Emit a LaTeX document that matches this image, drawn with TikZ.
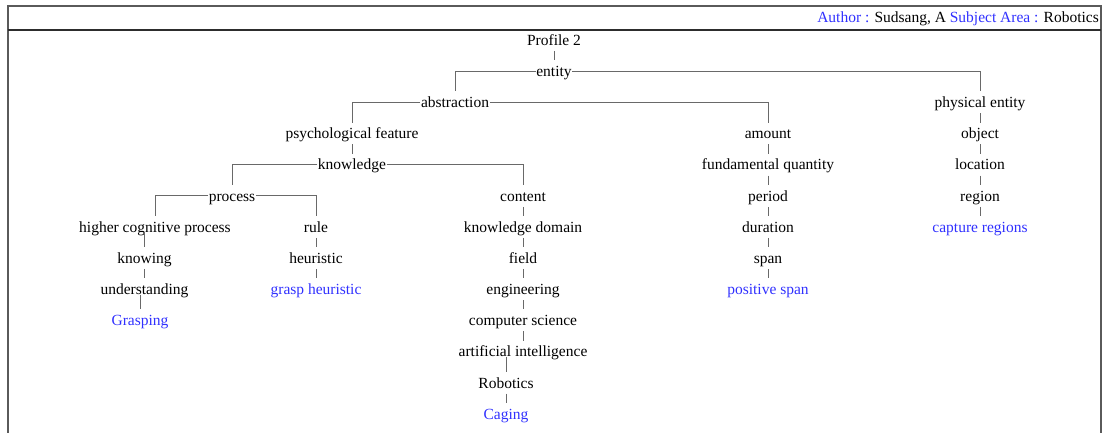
\documentclass[tikz,border=0pt]{standalone}
\usepackage{fontspec}
\setmainfont{Liberation Serif}
\definecolor{linkblue}{RGB}{48,48,255}
\definecolor{edgegray}{RGB}{105,105,105}
\definecolor{framegray}{RGB}{90,90,90}
\definecolor{ruledark}{RGB}{45,45,45}
\begin{document}
\begin{tikzpicture}[x=1pt,y=-1pt,
  lbl/.style={inner xsep=0.5pt, inner ysep=0pt, minimum height=21.5pt,
    text height=13pt, text depth=2.4pt, font=\fontsize{15.5}{18}\selectfont},
  leaf/.style={lbl, text=linkblue},
  conn/.style={draw=edgegray, line width=1pt},
  frame/.style={draw=framegray, line width=2pt},
  sep/.style={draw=ruledark, line width=2pt}]
\useasboundingbox (0,0) rectangle (1108,432);

% outer frame and header rule
\draw[frame] (7.5,433) -- (7.5,6) -- (1101,6) -- (1101,433);
\draw[sep] (7.5,29.5) -- (1101,29.5);
\node[anchor=east, inner sep=0pt, font=\fontsize{15.5}{18}\selectfont] (hdr) at (1099,18.5)
  {{\color{linkblue}Author :} Sudsang, A {\color{linkblue}Subject Area :} Robotics};

% tree nodes
\node[lbl] (prof) at (554,40) {Profile 2};
\node[lbl] (ent)  at (554,71.2) {entity};
\node[lbl] (abs)  at (455,102.3) {abstraction};
\node[lbl] (phy)  at (980,102.3) {physical entity};
\node[lbl] (psy)  at (352,133.5) {psychological feature};
\node[lbl] (amt)  at (768,133.5) {amount};
\node[lbl] (obj)  at (980,133.5) {object};
\node[lbl] (kno)  at (352,164.6) {knowledge};
\node[lbl] (fq)   at (768,164.6) {fundamental quantity};
\node[lbl] (loc)  at (980,164.6) {location};
\node[lbl] (proc) at (232,195.8) {process};
\node[lbl] (cont) at (523,195.8) {content};
\node[lbl] (per)  at (768,195.8) {period};
\node[lbl] (reg)  at (980,195.8) {region};
\node[lbl] (hcp)  at (155,226.9) {higher cognitive process};
\node[lbl] (rule) at (316,226.9) {rule};
\node[lbl] (kd)   at (523,226.9) {knowledge domain};
\node[lbl] (dur)  at (768,226.9) {duration};
\node[leaf] (capr) at (980,226.9) {capture regions};
\node[lbl] (kng)  at (144.5,258) {knowing};
\node[lbl] (heu)  at (316,258) {heuristic};
\node[lbl] (fld)  at (523,258) {field};
\node[lbl] (spn)  at (768,258) {span};
\node[lbl] (und)  at (144.5,289.2) {understanding};
\node[leaf] (gh)  at (316,289.2) {grasp heuristic};
\node[lbl] (eng)  at (523,289.2) {engineering};
\node[leaf] (ps)  at (768,289.2) {positive span};
\node[leaf] (grs) at (140,320.4) {Grasping};
\node[lbl] (cs)   at (523,320.4) {computer science};
\node[lbl] (ai)   at (523,351.5) {artificial intelligence};
\node[lbl] (rob)  at (506,382.7) {Robotics};
\node[leaf] (cag) at (506,413.8) {Caging};

% branching connectors
\draw[conn] (prof) -- (ent);
\draw[conn] (ent.west) -| (abs.north);
\draw[conn] (ent.east) -| (phy.north);
\draw[conn] (abs.west) -| (psy.north);
\draw[conn] (abs.east) -| (amt.north);
\draw[conn] (kno.west) -| (proc.north);
\draw[conn] (kno.east) -| (cont.north);
\draw[conn] (proc.west) -| (hcp.north);
\draw[conn] (proc.east) -| (rule.north);

% single-child chains
\draw[conn] (psy) -- (kno);
\draw[conn] (phy) -- (obj);
\draw[conn] (obj) -- (loc);
\draw[conn] (loc) -- (reg);
\draw[conn] (reg) -- (capr);
\draw[conn] (amt) -- (fq);
\draw[conn] (fq) -- (per);
\draw[conn] (per) -- (dur);
\draw[conn] (dur) -- (spn);
\draw[conn] (spn) -- (ps);
\draw[conn] (cont) -- (kd);
\draw[conn] (kd) -- (fld);
\draw[conn] (fld) -- (eng);
\draw[conn] (eng) -- (cs);
\draw[conn] (cs) -- (ai);
\draw[conn] (rob) -- (cag);
\draw[conn] (rule) -- (heu);
\draw[conn] (heu) -- (gh);
\draw[conn] (kng) -- (und);

% children set off from the parent's centre
\draw[conn] (kng.north |- hcp.base) -- (kng.north);
\draw[conn] (grs.north |- und.base) -- (grs.north);
\draw[conn] (rob.north |- ai.base) -- (rob.north);
\end{tikzpicture}
\end{document}
